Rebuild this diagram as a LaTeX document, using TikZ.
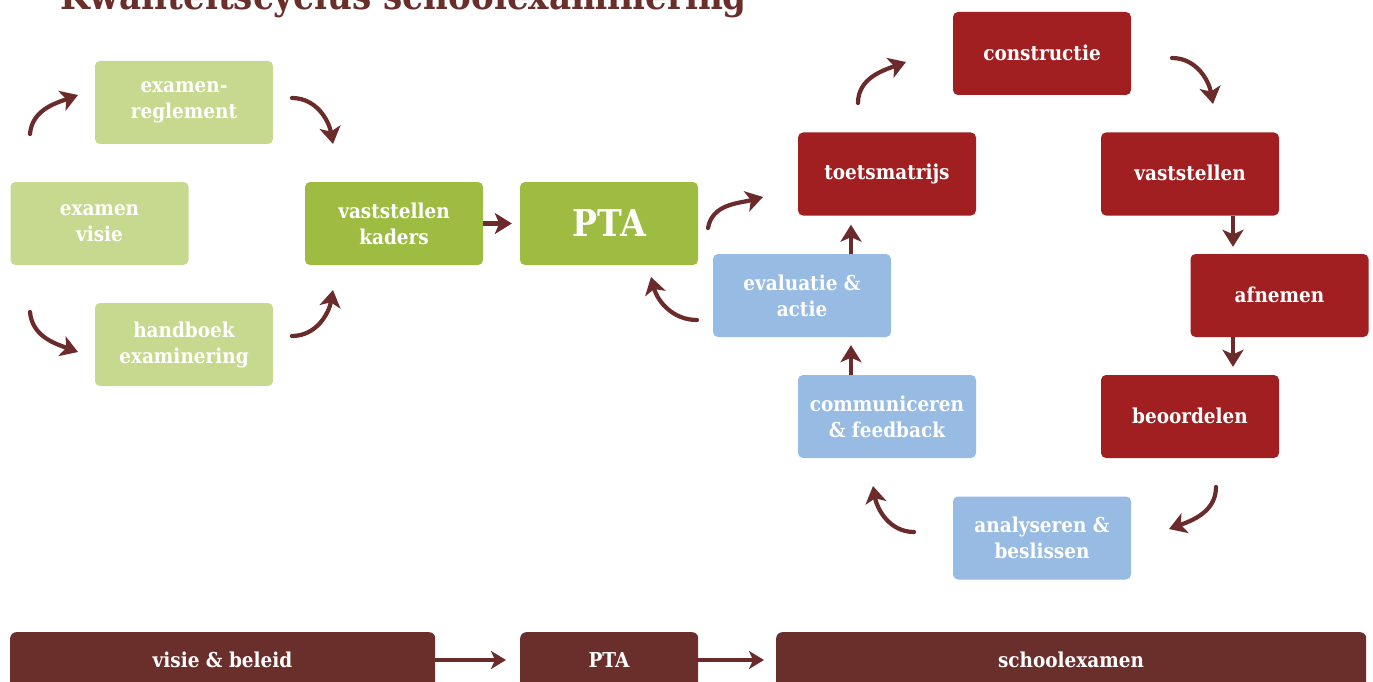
\documentclass[tikz,border=0pt]{standalone}
\usepackage{fontspec}
\setmainfont{DejaVu Serif Condensed}
\usetikzlibrary{arrows.meta,positioning,calc}
\definecolor{lgreen}{HTML}{C6D98E}
\definecolor{dgreen}{HTML}{9DBC41}
\definecolor{cred}{HTML}{A11F20}
\definecolor{cblue}{HTML}{97BBE3}
\definecolor{cbrown}{HTML}{6A2E2B}
\definecolor{arrc}{HTML}{6B2B2A}
\tikzset{
  boxfont/.style={font=\bfseries\fontsize{20.5}{26}\selectfont},
  box/.style={rounded corners=5pt, minimum width=178pt, minimum height=83pt, align=center, text=white, boxfont, inner sep=0pt},
  lg/.style={box, fill=lgreen},
  dg/.style={box, fill=dgreen},
  rd/.style={box, fill=cred},
  bl/.style={box, fill=cblue},
  bar/.style={rounded corners=6pt, fill=cbrown, inner sep=0pt},
  carr/.style={draw=arrc, line width=4.2pt, line cap=round, -{Stealth[length=17pt,width=21pt,inset=4.5pt]}},
  sarr/.style={draw=arrc, line width=3.6pt, -{Stealth[length=15pt,width=18pt,inset=4pt]}},
}
\begin{document}
\begin{tikzpicture}[x=1pt,y=-1pt]
\useasboundingbox (0,0) rectangle (1373,682);
\clip (0,0) rectangle (1373,682);
\fill[white] (0,0) rectangle (1373,682);
% title
\node[anchor=base west, text=cbrown, font=\bfseries\fontsize{38}{42}\selectfont, inner sep=0pt] (title) at (60,10) {Kwaliteitscyclus schoolexaminering};
% left cycle
\node[lg] (regl) at (184,102.5) {examen-\\reglement};
\node[lg] (visie) at (99.5,223.5) {examen\\visie};
\node[lg] (hand) at (184,344.5) {handboek\\examinering};
\node[dg] (kaders) at (394,223.5) {vaststellen\\kaders};
\node[dg, font=\bfseries\fontsize{37}{42}\selectfont] (pta) at (609,223.5) {PTA};
% right cycle
\node[rd] (constr) at (1042,53.5) {\raisebox{2pt}{constructie}};
\node[rd] (toets) at (887,174) {\raisebox{2pt}{toetsmatrijs}};
\node[rd] (vast) at (1190,174) {\raisebox{2pt}{vaststellen}};
\node[rd] (afn) at (1279.5,295.5) {\raisebox{2pt}{afnemen}};
\node[rd] (beoord) at (1190,416.5) {\raisebox{2pt}{beoordelen}};
\node[bl] (anal) at (1042,538) {analyseren \&\\beslissen};
\node[bl] (comm) at (887,416.5) {communiceren\\\& feedback};
\node[bl] (eval) at (802,295.5) {evaluatie \&\\actie};
% bottom bars
\node[bar, minimum width=425pt, minimum height=80pt, anchor=north west] (bvisie) at (10,632) {};
\node[boxfont, text=white] (tvisie) at (222.5,660) {visie \& beleid};
\node[bar, minimum width=178pt, minimum height=80pt, anchor=north west] (bpta) at (520,632) {};
\node[boxfont, text=white] (tpta) at (609,660) {PTA};
\node[bar, minimum width=590pt, minimum height=80pt, anchor=north west] (bschool) at (776,632) {};
\node[boxfont, text=white] (tschool) at (1071,660) {schoolexamen};
% coordinates for curved arrows
\coordinate (a1s) at (30,134); \coordinate (a1e) at (78,95);
\coordinate (a2s) at (292,98); \coordinate (a2e) at (333,144);
\coordinate (a3s) at (30,312); \coordinate (a3e) at (78,352);
\coordinate (a4s) at (292,336); \coordinate (a4e) at (333,290);
\coordinate (a6s) at (708,228); \coordinate (a6e) at (763,197);
\coordinate (a7s) at (858,103); \coordinate (a7e) at (906,62);
\coordinate (a8s) at (1172,58); \coordinate (a8e) at (1213,104);
\coordinate (a11s) at (1216,487); \coordinate (a11e) at (1169,529);
\coordinate (a12s) at (914,532); \coordinate (a12e) at (873,486);
\coordinate (a15s) at (697,320); \coordinate (a15e) at (651,277);
\draw[carr] (a1s) to[out=85,in=200] (a1e);
\draw[carr] (a2s) to[out=0,in=100] (a2e);
\draw[carr] (a3s) to[out=-85,in=160] (a3e);
\draw[carr] (a4s) to[out=0,in=-100] (a4e);
\draw[carr] (a6s) to[out=80,in=195] (a6e);
\draw[carr] (a7s) to[out=90,in=200] (a7e);
\draw[carr] (a8s) to[out=0,in=100] (a8e);
\draw[carr] (a11s) to[out=-90,in=20] (a11e);
\draw[carr] (a12s) to[out=180,in=-80] (a12e);
\draw[carr] (a15s) to[out=180,in=-75] (a15e);
% straight arrows
\draw[carr, line cap=butt] (kaders.east) -- ([xshift=-8pt]pta.west);
\draw[carr, line cap=butt] ([xshift=43pt]vast.south) -- ([xshift=-46.5pt,yshift=7pt]afn.north);
\draw[carr, line cap=butt] ([xshift=-46.5pt]afn.south) -- ([xshift=43pt,yshift=8pt]beoord.north);
\draw[carr, line cap=butt] ([xshift=-36pt]comm.north) -- ([xshift=49pt,yshift=-8pt]eval.south);
\draw[carr, line cap=butt] ([xshift=49pt]eval.north) -- ([xshift=-36pt,yshift=-9pt]toets.south);
\draw[sarr] (bvisie.east |- tvisie) -- ([xshift=-14pt]bpta.west |- tpta);
\draw[sarr] (bpta.east |- tpta) -- ([xshift=-12pt]bschool.west |- tschool);
\end{tikzpicture}
\end{document}
